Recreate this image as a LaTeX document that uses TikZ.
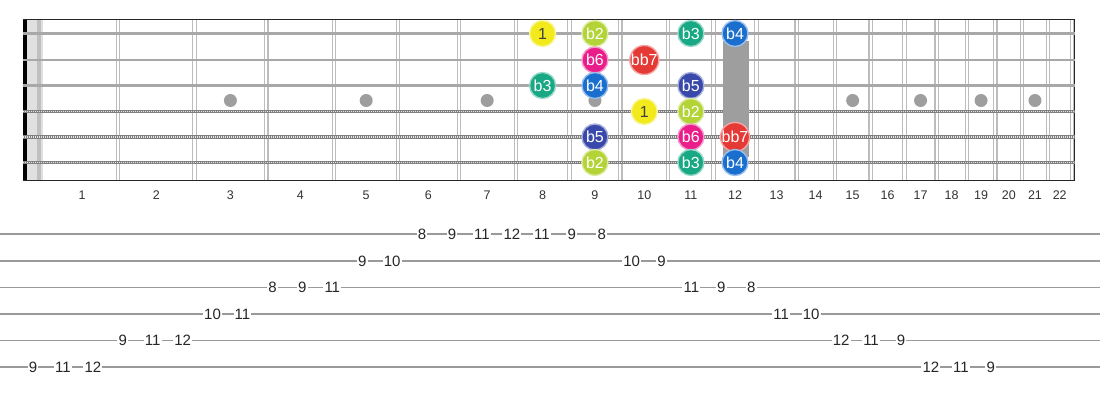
\documentclass[tikz,border=0pt]{standalone}
\usepackage{fontspec}
\setmainfont{Liberation Sans}
\definecolor{cI}{HTML}{F2EA1C}
\definecolor{cbII}{HTML}{B3D336}
\definecolor{cbIII}{HTML}{18A884}
\definecolor{cbIV}{HTML}{1A6FCE}
\definecolor{cbV}{HTML}{3949AB}
\definecolor{cbVI}{HTML}{E91E8A}
\definecolor{cbbVII}{HTML}{E53935}
\definecolor{fretgray}{HTML}{BDBDBD}
\definecolor{strgray}{HTML}{A8A8A8}
\definecolor{inlay}{HTML}{9E9E9E}
\definecolor{tabgray}{HTML}{9A9A9A}
\tikzset{
  note/.style={circle, minimum size=26pt, inner sep=0pt, line width=1.4pt, font=\fontsize{16}{17}\selectfont, text=white},
  tabnum/.style={fill=white, inner sep=1.2pt, font=\fontsize{15}{16}\selectfont, text=black!85},
  fretlbl/.style={font=\fontsize{12.5}{14}\selectfont, text=black!80},
  fretwire/.style={fretgray, line width=1.1pt},
  tabline/.style={tabgray, line width=1.4pt}
}
\newcommand{\fx}[1]{38+1437*(1-pow(2,-(#1)/12))}
\begin{document}
\begin{tikzpicture}[x=1pt,y=-1pt]
\useasboundingbox (0,0) rectangle (1100,400);
\fill[white] (0,0) rectangle (1100,400);
% nut area
\fill[black!12] (27,19) rectangle (43,181);
\fill[black!25] (37,19) rectangle (41,181);
% frets
\foreach \n in {1,...,22}{
  \pgfmathsetmacro{\xx}{\fx{\n}}
  \draw[fretwire] (\xx-1.6,20) -- (\xx-1.6,180);
  \draw[fretwire] (\xx+1.6,20) -- (\xx+1.6,180);
}
% fret labels
\foreach \n in {1,...,22}{
  \pgfmathsetmacro{\xa}{\n==1 ? 46 : \fx{\n-1}}
  \pgfmathsetmacro{\xb}{\fx{\n}}
  \node[fretlbl] (fl\n) at ({(\xa+\xb)/2},195) {\n};
}
% inlays
\foreach \n in {3,5,7,9,15,17,19,21}{
  \pgfmathsetmacro{\xa}{\fx{\n-1}}
  \pgfmathsetmacro{\xb}{\fx{\n}}
  \fill[inlay] ({(\xa+\xb)/2},100.5) circle (6.5);
}
% borders
\fill[black] (23,19) rectangle (27,181);
\draw[black!85, line width=1.8pt] (23,19.5) -- (1075,19.5);
\draw[black!85, line width=1.8pt] (23,180.5) -- (1075,180.5);
\draw[black!85, line width=1.6pt] (1074.5,19) -- (1074.5,181);
% strings
\foreach \y in {33.5,60,85.5}{
  \draw[strgray, line width=2.2pt] (23,\y) -- (1075,\y);
}
\foreach \y in {111.5,137,162.5}{
  \draw[black!50, line width=3.6pt] (23,\y) -- (1075,\y);
  \draw[white!80!gray, line width=1.8pt, dash pattern=on 0.9pt off 1.1pt] (23,\y) -- (1075,\y);
}
% 12th fret bar
\fill[inlay] (723,41) rectangle (748.5,157);
% notes
\foreach \nm/\f/\y/\c/\t/\tc in {
  a/8/33.5/cI/1/black!75, b/9/33.5/cbII/b2/white, c/11/33.5/cbIII/b3/white, d/12/33.5/cbIV/b4/white,
  e/9/60/cbVI/b6/white, f/10/60/cbbVII/bb7/white,
  g/8/85.5/cbIII/b3/white, h/9/85.5/cbIV/b4/white, i/11/85.5/cbV/b5/white,
  j/10/111.5/cI/1/black!75, k/11/111.5/cbII/b2/white,
  l/9/137/cbV/b5/white, m/11/137/cbVI/b6/white, n/12/137/cbbVII/bb7/white,
  o/9/162.5/cbII/b2/white, p/11/162.5/cbIII/b3/white, q/12/162.5/cbIV/b4/white}{
  \pgfmathsetmacro{\xa}{\fx{\f-1}}
  \pgfmathsetmacro{\xb}{\fx{\f}}
  \node[note, fill=\c, draw=\c!45!white, text=\tc] (n\nm) at ({(\xa+\xb)/2},\y) {\t};
}
% tab lines
\foreach \y/\nm in {234/t1,261/t2,287.5/t3,314/t4,340.5/t5,367/t6}{
  \coordinate (\nm l) at (0,\y);
  \coordinate (\nm r) at (1100,\y);
  \draw[tabline] (\nm l) -- (\nm r);
}
% tab numbers
\foreach \k/\y/\v in {
  0/367/9, 1/367/11, 2/367/12,
  3/340.5/9, 4/340.5/11, 5/340.5/12,
  6/314/10, 7/314/11,
  8/287.5/8, 9/287.5/9, 10/287.5/11,
  11/261/9, 12/261/10,
  13/234/8, 14/234/9, 15/234/11, 16/234/12, 17/234/11, 18/234/9, 19/234/8,
  20/261/10, 21/261/9,
  22/287.5/11, 23/287.5/9, 24/287.5/8,
  25/314/11, 26/314/10,
  27/340.5/12, 28/340.5/11, 29/340.5/9,
  30/367/12, 31/367/11, 32/367/9}{
  \node[tabnum] (tn\k) at ({33+29.93*\k},\y) {\v};
}
\end{tikzpicture}
\end{document}
